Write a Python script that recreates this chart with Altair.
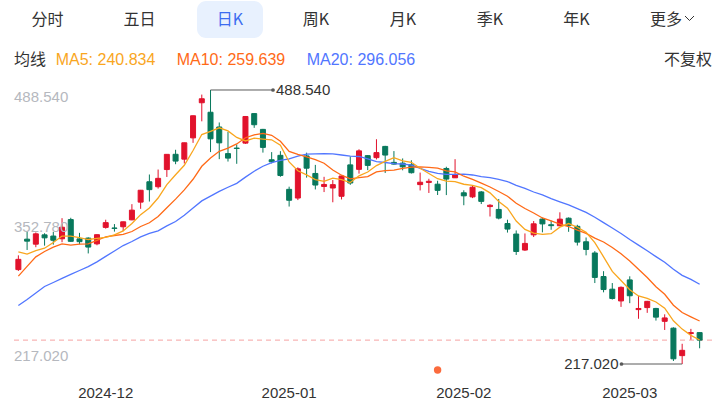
import altair as alt
import pandas as pd
import numpy as np

# ---------------- data ----------------
dates = [
    "2024-11-15", "2024-11-18", "2024-11-19", "2024-11-20", "2024-11-21", "2024-11-22", "2024-11-25", "2024-11-26", "2024-11-27", "2024-11-29",
    "2024-12-02", "2024-12-03", "2024-12-04", "2024-12-05", "2024-12-06", "2024-12-09", "2024-12-10", "2024-12-11", "2024-12-12", "2024-12-13",
    "2024-12-16", "2024-12-17", "2024-12-18", "2024-12-19", "2024-12-20", "2024-12-23", "2024-12-24", "2024-12-26", "2024-12-27", "2024-12-30", "2024-12-31",
    "2025-01-02", "2025-01-03", "2025-01-06", "2025-01-07", "2025-01-08", "2025-01-10", "2025-01-13", "2025-01-14", "2025-01-15", "2025-01-16", "2025-01-17",
    "2025-01-21", "2025-01-22", "2025-01-23", "2025-01-24", "2025-01-27", "2025-01-28", "2025-01-29", "2025-01-30", "2025-01-31",
    "2025-02-03", "2025-02-04", "2025-02-05", "2025-02-06", "2025-02-07", "2025-02-10", "2025-02-11", "2025-02-12", "2025-02-13", "2025-02-14",
    "2025-02-18", "2025-02-19", "2025-02-20", "2025-02-21", "2025-02-24", "2025-02-25", "2025-02-26", "2025-02-27", "2025-02-28",
    "2025-03-03", "2025-03-04", "2025-03-05", "2025-03-06", "2025-03-07", "2025-03-10", "2025-03-11", "2025-03-12", "2025-03-13",
]

opens = [
    310.57, 340.73, 335.76, 345.00, 343.81, 341.09, 360.14, 341.00, 341.80, 336.08,
    352.38, 351.80, 353.00, 359.87, 377.42, 397.61, 392.68, 409.70, 424.84, 420.00,
    441.09, 475.90, 466.50, 451.88, 425.51, 431.00, 435.90, 465.16, 449.52, 419.40, 423.79,
    390.10, 381.48, 423.20, 405.83, 392.95, 391.40, 383.21, 414.34, 409.90, 423.49, 421.50,
    432.64, 416.81, 416.06, 414.45, 394.80, 396.91, 395.21, 410.78, 401.53,
    386.68, 382.63, 387.51, 373.03, 370.19, 356.21, 345.80, 329.94, 345.00, 360.62,
    355.01, 354.00, 361.51, 353.44, 338.14, 327.02, 303.71, 291.16, 279.50,
    300.34, 270.93, 272.92, 272.06, 259.32, 252.54, 225.31, 247.22, 248.13,
]

highs = [
    324.68, 348.55, 347.38, 346.60, 347.99, 361.53, 361.93, 346.96, 342.55, 345.45,
    360.00, 355.69, 358.10, 375.43, 389.49, 404.80, 409.73, 424.88, 429.30, 436.30,
    463.19, 483.99, 488.54, 456.36, 447.08, 434.51, 462.78, 465.33, 450.00, 427.00, 427.93,
    392.73, 411.88, 426.43, 414.33, 402.50, 399.28, 403.79, 422.64, 429.80, 424.00, 439.74,
    433.20, 428.00, 420.73, 418.88, 406.69, 400.59, 398.59, 412.50, 419.99,
    389.17, 394.00, 388.39, 375.40, 380.55, 360.00, 349.37, 346.40, 358.69, 362.00,
    359.10, 367.34, 362.30, 354.98, 342.40, 328.89, 309.00, 297.23, 293.88,
    303.94, 284.35, 279.55, 272.65, 266.25, 253.37, 237.06, 251.84, 248.29,
]

lows = [
    309.22, 330.01, 332.75, 334.30, 335.28, 337.70, 338.20, 335.66, 326.59, 334.65,
    351.15, 348.20, 348.60, 359.50, 370.80, 378.01, 390.85, 402.38, 415.00, 415.71,
    436.15, 457.51, 427.01, 420.02, 417.64, 415.41, 435.14, 451.02, 426.50, 415.75, 402.54,
    373.04, 379.45, 401.70, 390.00, 387.40, 377.29, 380.07, 394.54, 405.66, 409.13, 419.75,
    406.31, 414.59, 408.95, 405.78, 389.00, 386.50, 384.48, 384.41, 401.34,
    374.36, 381.40, 375.53, 363.18, 360.34, 347.26, 325.10, 329.12, 342.85, 347.50,
    350.02, 353.67, 348.00, 334.42, 324.70, 297.25, 288.04, 280.88, 273.60,
    277.30, 261.84, 267.71, 260.02, 250.73, 220.00, 217.02, 241.10, 232.60,
]

closes = [
    320.72, 338.74, 346.00, 342.03, 339.64, 352.56, 338.59, 338.23, 332.89, 345.16,
    357.09, 351.42, 357.93, 369.49, 389.22, 389.79, 400.99, 424.77, 418.10, 436.23,
    463.02, 479.86, 440.13, 436.17, 421.06, 430.60, 462.28, 454.13, 431.66, 417.41, 403.84,
    379.28, 410.44, 411.05, 394.36, 394.94, 394.74, 403.31, 396.36, 428.22, 413.82, 426.50,
    424.07, 415.11, 412.38, 406.58, 397.15, 398.09, 389.10, 400.28, 404.60,
    383.68, 392.21, 378.17, 374.32, 361.62, 350.73, 328.50, 336.51, 355.94, 355.84,
    354.11, 360.56, 354.40, 337.80, 330.53, 302.80, 290.80, 281.95, 292.98,
    284.65, 272.04, 279.10, 263.45, 262.67, 222.15, 230.58, 248.09, 240.68,
]

# closes of the 19 sessions before the first candle (needed for the moving averages)
prior_closes = [218.85, 217.97, 213.65, 260.48, 269.19, 262.51, 259.52, 257.55, 249.85, 248.98,
                242.84, 251.44, 288.53, 296.91, 321.22, 350.00, 328.49, 330.24, 311.18]

month_first_dates = ["2024-12-02", "2025-01-02", "2025-02-03", "2025-03-03"]
month_labels = ["2024-12", "2025-01", "2025-02", "2025-03"]
event_dates = ["2025-01-29"]

tabs = ["分时", "五日", "日K", "周K", "月K", "季K", "年K", "更多"]

# ---------------- derived table ----------------
n = len(dates)
df = pd.DataFrame({"idx": np.arange(n), "date": dates, "open": opens, "high": highs,
                   "low": lows, "close": closes})
df["dir"] = np.where(df["close"] >= df["open"], "up", "down")
allc = pd.Series(prior_closes + closes)
k = len(prior_closes)
df["ma5"] = allc.rolling(5).mean().iloc[k:].to_numpy()
df["ma10"] = allc.rolling(10).mean().iloc[k:].to_numpy()
df["ma20"] = allc.rolling(20).mean().iloc[k:].to_numpy()

RED = "#e1122c"
GREEN = "#08785c"
C5 = "#f9a61e"
C10 = "#ff6a17"
C20 = "#5176ff"
FONT = "Liberation Sans, Noto Sans CJK SC, sans-serif"
CJK = "Noto Sans CJK SC, sans-serif"

W, H = 690, 305
ymin, ymax = 201.165, 503.404
xs = alt.Scale(domain=[-0.5, n - 0.5], nice=False, zero=False, padding=0)
ys = alt.Scale(domain=[ymin, ymax], nice=False, zero=False, padding=0)
X = alt.X("idx:Q", scale=xs, axis=None)
cscale = alt.Scale(domain=["up", "down"], range=[RED, GREEN])

layers = []


def txt(s, x, y, color, size, align="left", baseline="middle", font=FONT):
    return alt.Chart(pd.DataFrame({"t": [s]})).mark_text(
        align=align, baseline=baseline, fontSize=size, color=color, font=font
    ).encode(x=alt.value(x), y=alt.value(y), text="t:N")


# top tab bar
layers.append(
    alt.Chart(pd.DataFrame({"a": [1]})).mark_rect(cornerRadius=9, color="#e8f1fe").encode(
        x=alt.value(183), x2=alt.value(249), y=alt.value(-74), y2=alt.value(-37))
)
tab_x = [33.5, 125.5, 216, 302, 389, 476, 562.5, 652]
for t, xx in zip(tabs, tab_x):
    layers.append(txt(t, xx, -55.5, "#3c6cf0" if t == "日K" else "#333333", 16, align="center", font=CJK))
for (a, b, c, d) in [(671, -59, 675.5, -54.5), (675.5, -54.5, 680, -59)]:
    layers.append(alt.Chart(pd.DataFrame({"a": [1]})).mark_rule(color="#333333", strokeWidth=1).encode(
        x=alt.value(a), y=alt.value(b), x2=alt.value(c), y2=alt.value(d)))

# MA legend row
last = df.iloc[-1]
layers.append(txt("均线", 0, -15.5, "#333333", 16, font=CJK))
layers.append(txt(f"MA5: {last['ma5']:.3f}", 41.7, -15.5, C5, 16))
layers.append(txt(f"MA10: {last['ma10']:.3f}", 162.7, -15.5, C10, 16))
layers.append(txt(f"MA20: {last['ma20']:.3f}", 292.7, -15.5, C20, 16))
layers.append(txt("不复权", 698, -15.5, "#333333", 16, align="right", font=CJK))

# last close dashed line
layers.append(alt.Chart(pd.DataFrame({"p": [closes[-1]]})).mark_rule(
    color="#f6a3a3", strokeWidth=1, strokeDash=[5, 4]).encode(
    y=alt.Y("p:Q", scale=ys, axis=None), x=alt.value(0), x2=alt.value(700)))

# candles
layers.append(alt.Chart(df).mark_rule(strokeWidth=1).encode(
    x=X, y=alt.Y("low:Q", scale=ys, axis=None), y2="high:Q",
    color=alt.Color("dir:N", scale=cscale, legend=None)))
layers.append(alt.Chart(df).mark_bar(size=5, strokeWidth=1, orient="vertical").encode(
    x=X, y=alt.Y("open:Q", scale=ys, axis=None), y2="close:Q",
    color=alt.Color("dir:N", scale=cscale, legend=None),
    stroke=alt.Stroke("dir:N", scale=cscale, legend=None)))

# moving averages
for col, c in [("ma20", C20), ("ma10", C10), ("ma5", C5)]:
    layers.append(alt.Chart(df).mark_line(color=c, strokeWidth=1.3).encode(
        x=X, y=alt.Y(f"{col}:Q", scale=ys, axis=None)))

# price labels on the left (max / mid / min)
hi, lo = max(highs), min(lows)
mid = (hi + lo) / 2
for p, base in [(hi, "top"), (mid, "middle"), (lo, "bottom")]:
    layers.append(alt.Chart(pd.DataFrame({"p": [p], "t": [f"{p:.3f}"]})).mark_text(
        align="left", baseline=base, fontSize=15, color="#b5b8be", font=FONT).encode(
        x=alt.value(0), y=alt.Y("p:Q", scale=ys, axis=None), text="t:N"))

# max / min annotations
imax = int(np.argmax(highs))
imin = int(np.argmin(lows))
dmax = pd.DataFrame({"idx": [imax], "p": [hi], "t": [f"{hi:.3f}"]})
dmin = pd.DataFrame({"idx": [imin], "p": [lo], "t": [f"{lo:.3f}"]})
layers.append(alt.Chart(dmax).mark_rule(color="#5a5a5a", strokeWidth=1).encode(
    x=X, x2=alt.value(259), y=alt.Y("p:Q", scale=ys, axis=None)))
layers.append(alt.Chart(dmax).mark_circle(color="#5a5a5a", size=14, opacity=1).encode(
    x=alt.value(259), y=alt.Y("p:Q", scale=ys, axis=None)))
layers.append(alt.Chart(dmax).mark_text(align="left", baseline="middle", fontSize=15,
                                        color="#333333", font=FONT).encode(
    x=alt.value(262), y=alt.Y("p:Q", scale=ys, axis=None), text="t:N"))
layers.append(alt.Chart(dmin).mark_rule(color="#5a5a5a", strokeWidth=1).encode(
    x=X, x2=alt.value(607.5), y=alt.Y("p:Q", scale=ys, axis=None)))
layers.append(alt.Chart(dmin).mark_circle(color="#5a5a5a", size=14, opacity=1).encode(
    x=alt.value(607.5), y=alt.Y("p:Q", scale=ys, axis=None)))
layers.append(alt.Chart(dmin).mark_text(align="right", baseline="middle", fontSize=15,
                                        color="#333333", font=FONT).encode(
    x=alt.value(604.5), y=alt.Y("p:Q", scale=ys, axis=None), text="t:N"))

# event marker
devt = pd.DataFrame({"idx": [dates.index(d) for d in event_dates]})
layers.append(alt.Chart(devt).mark_circle(color="#fb6b3d", size=55, opacity=1).encode(
    x=X, y=alt.value(295)))

# month labels
dm = pd.DataFrame({"idx": [dates.index(d) for d in month_first_dates], "t": month_labels})
layers.append(alt.Chart(dm).mark_text(align="center", baseline="middle", fontSize=15,
                                      color="#333333", font=FONT).encode(
    x=X, y=alt.value(318), text="t:N"))

chart = alt.layer(*layers).properties(
    width=W, height=H,
    padding={"left": 14, "top": 75, "right": 10, "bottom": 32},
    autosize=alt.AutoSizeParams(type="none"),
    background="white",
).configure_view(strokeWidth=0)

chart.save("out.html", embed_options={"renderer": "svg", "actions": False})
